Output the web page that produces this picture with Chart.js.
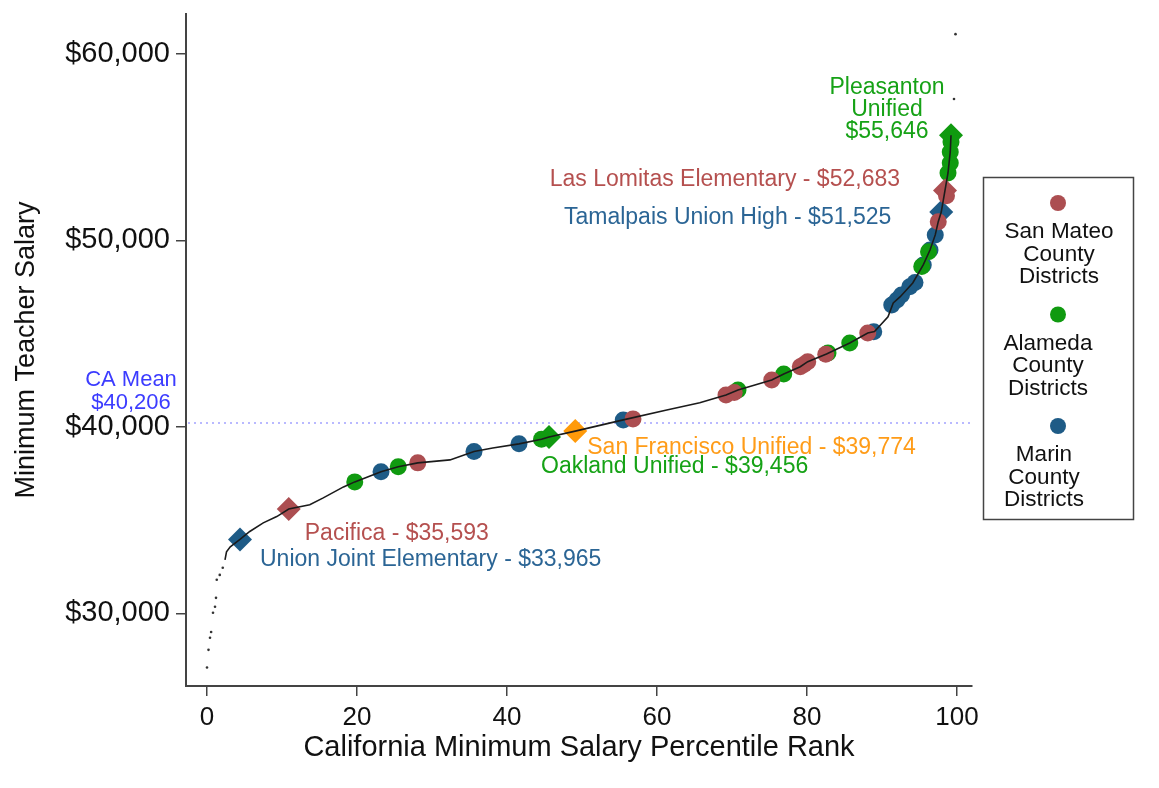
<!DOCTYPE html>
<html>
<head>
<meta charset="utf-8">
<script src="https://cdn.jsdelivr.net/npm/chart.js@4/dist/chart.umd.min.js"></script>
<style>
  body { margin: 0; background: #fff; }
  #wrap { width: 1159px; height: 788px; }
</style>
</head>
<body>
<div id="wrap"><canvas id="salaryChart" width="1159" height="788"></canvas></div>
<script>
// axis ticks
var xTicks = [0, 20, 40, 60, 80, 100];
var yTicks = [30000, 40000, 50000, 60000];
var caMean = 40206;

// all CA districts - sparse bottom tail and top outliers
var tailPct = [0.0, 0.2, 0.4, 0.55, 0.8, 1.07, 1.2, 1.3, 1.7, 2.1, 99.6, 99.8];
var tailSalary = [27090, 28040, 28690, 29000, 30030, 30350, 30830, 31800, 32060, 32440, 57590, 61070];

// all CA districts - main curve
var curvePct = [2.4, 2.6, 3.1, 4.4, 5.7, 7.5, 9.3, 10.9, 13.7, 15.5, 18.2, 19.7, 23.2, 25.5, 28.1,
    32.4, 35.6, 38.1, 41.6, 44.6, 45.6, 49.1, 55.5, 61.3, 65.7, 69.2, 70.8, 75.3, 76.9, 79.1, 80.1,
    82.6, 85.7, 88.1, 89.0, 90.8, 91.5, 92.4, 94.1, 95.5, 96.4, 97.1, 97.5, 97.9, 98.4, 98.8, 99.1, 99.2];
var curveSalary = [32870, 33300, 33570, 33965, 34390, 34850, 35190, 35593, 35820, 36190, 36780, 37050, 37590, 37860, 38070,
    38230, 38680, 38870, 39090, 39340, 39456, 39774, 40375, 40910, 41290, 41716, 41980, 42520, 42840, 43230, 43500,
    43910, 44500, 45040, 45110, 45910, 46650, 46970, 47720, 48690, 49490, 50300, 51010, 51525, 52683, 53620, 54750, 55646];

// county districts
var sanMateoPct = [28.1, 56.8, 69.2, 70.3, 75.3, 79.1, 79.6, 80.1, 82.5, 88.1, 97.5, 98.6];
var sanMateoSalary = [38070, 40430, 41716, 41850, 42520, 43230, 43350, 43500, 43900, 45040, 51010, 52400];
var alamedaPct = [19.7, 25.5, 44.6, 70.8, 76.9, 82.8, 85.7, 95.3, 96.2, 98.8, 99.1, 99.1, 99.2];
var alamedaSalary = [37050, 37860, 39340, 41980, 42840, 43960, 44500, 48600, 49400, 53620, 54160, 54750, 55280];
var marinPct = [23.2, 35.6, 41.6, 55.5, 88.9, 91.3, 92.0, 92.6, 93.7, 94.4, 95.5, 96.4, 97.1];
var marinSalary = [37590, 38680, 39090, 40375, 45110, 46540, 46810, 47080, 47520, 47740, 48690, 49490, 50300];

// highlighted districts
var hlNames = ['Pleasanton Unified', 'Las Lomitas Elementary', 'Tamalpais Union High', 'San Francisco Unified',
    'Oakland Unified', 'Pacifica', 'Union Joint Elementary'];
var hlPct = [99.2, 98.4, 97.9, 49.1, 45.6, 10.9, 4.4];
var hlSalary = [55646, 52683, 51525, 39774, 39456, 35593, 33965];
var hlCounty = ['Alameda', 'San Mateo', 'Marin', 'San Francisco', 'Alameda', 'San Mateo', 'Marin'];

var legendNames = ['San Mateo', 'Alameda', 'Marin'];

var FONT = "'Liberation Sans', Arial, Helvetica, sans-serif";
var markerColor = { 'San Mateo': '#ac4e51', 'Alameda': '#109a10', 'Marin': '#1e5b86', 'San Francisco': '#ff9a0a' };
var textColor = { 'San Mateo': '#b5504f', 'Alameda': '#16a216', 'Marin': '#2b6595', 'San Francisco': '#ff9c18' };

function pts(xs, ys) {
    return xs.map(function(x, i) { return { x: x, y: ys[i] }; });
}
function money(v) {
    return '$' + v.toLocaleString('en-US');
}

// label placement relative to the highlighted marker (pixels)
var labelPlace = [
    { lines: ['Pleasanton', 'Unified', money(hlSalary[0])], dx: -64, dy: -48, align: 'center' },
    { lines: [hlNames[1] + ' - ' + money(hlSalary[1])], dx: -45, dy: -11, align: 'right' },
    { lines: [hlNames[2] + ' - ' + money(hlSalary[2])], dx: -50, dy: 6, align: 'right' },
    { lines: [hlNames[3] + ' - ' + money(hlSalary[3])], dx: 12, dy: 17, align: 'left' },
    { lines: [hlNames[4] + ' - ' + money(hlSalary[4])], dx: -8, dy: 30, align: 'left' },
    { lines: [hlNames[5] + ' - ' + money(hlSalary[5])], dx: 16, dy: 25, align: 'left' },
    { lines: [hlNames[6] + ' - ' + money(hlSalary[6])], dx: 20, dy: 20, align: 'left' }
];

var meanLine = {
    id: 'meanLine',
    beforeDatasetsDraw: function(chart) {
        var c = chart.ctx, area = chart.chartArea;
        var y = chart.scales.y.getPixelForValue(caMean);
        c.save();
        c.strokeStyle = '#a3a3ff';
        c.lineWidth = 1.5;
        c.setLineDash([2, 4]);
        c.beginPath();
        c.moveTo(area.left + 2, y);
        c.lineTo(area.right, y);
        c.stroke();
        c.restore();
    }
};

var labels = {
    id: 'labels',
    afterDatasetsDraw: function(chart) {
        var c = chart.ctx;
        var xs = chart.scales.x, ys = chart.scales.y;
        c.save();
        c.font = '23px ' + FONT;
        c.textBaseline = 'middle';
        labelPlace.forEach(function(lp, i) {
            var px = xs.getPixelForValue(hlPct[i]) + lp.dx;
            var py = ys.getPixelForValue(hlSalary[i]) + lp.dy;
            c.fillStyle = textColor[hlCounty[i]];
            c.textAlign = lp.align;
            lp.lines.forEach(function(t, k) {
                c.fillText(t, px, py + k * 22);
            });
        });
        // CA mean label, left of the axis
        var my = ys.getPixelForValue(caMean);
        c.fillStyle = '#3c3cff';
        c.textAlign = 'center';
        c.font = '22px ' + FONT;
        c.fillText('CA Mean', 131, my - 43);
        c.fillText(money(caMean), 131, my - 20);
        c.restore();
    }
};

var boxLegend = {
    id: 'boxLegend',
    afterDraw: function(chart) {
        var c = chart.ctx;
        var centers = [1059, 1048, 1044];
        c.save();
        c.strokeStyle = '#444';
        c.lineWidth = 1.5;
        c.strokeRect(983.5, 177.5, 150, 342);
        c.font = '22.5px ' + FONT;
        c.textAlign = 'center';
        c.textBaseline = 'middle';
        legendNames.forEach(function(name, i) {
            var top = 203 + i * 111.5;
            c.fillStyle = markerColor[name];
            c.beginPath();
            c.arc(1058, top, 8, 0, Math.PI * 2);
            c.fill();
            c.fillStyle = '#111';
            [name, 'County', 'Districts'].forEach(function(t, k) {
                c.fillText(t, centers[i], top + 29 + k * 22.5);
            });
        });
        c.restore();
    }
};

function circles(xs, ys, county) {
    return {
        label: county + ' County Districts',
        data: pts(xs, ys),
        pointStyle: 'circle',
        pointRadius: 8.5,
        pointBackgroundColor: markerColor[county],
        pointBorderWidth: 0,
        showLine: false
    };
}

var hlIdx = { 'San Mateo': [], 'Alameda': [], 'Marin': [], 'San Francisco': [] };
hlCounty.forEach(function(cty, i) { hlIdx[cty].push(i); });
function diamonds(county) {
    var idx = hlIdx[county];
    return {
        label: county + ' highlighted',
        data: idx.map(function(i) { return { x: hlPct[i], y: hlSalary[i] }; }),
        pointStyle: 'rectRot',
        pointRadius: 12,
        pointBackgroundColor: markerColor[county],
        pointBorderWidth: 0,
        showLine: false
    };
}

var ctx = document.getElementById('salaryChart').getContext('2d');
var salaryChart = new Chart(ctx, {
    type: 'scatter',
    data: {
        datasets: [
            {
                label: 'All districts',
                data: pts(curvePct, curveSalary),
                showLine: true,
                borderColor: '#1b1b1b',
                borderWidth: 1.6,
                pointRadius: 0
            },
            {
                label: 'All districts tail',
                data: pts(tailPct, tailSalary),
                showLine: false,
                pointRadius: 1.3,
                pointBackgroundColor: '#333',
                pointBorderWidth: 0
            },
            circles(sanMateoPct, sanMateoSalary, 'San Mateo'),
            diamonds('San Mateo'),
            circles(alamedaPct, alamedaSalary, 'Alameda'),
            diamonds('Alameda'),
            circles(marinPct, marinSalary, 'Marin'),
            diamonds('Marin'),
            diamonds('San Francisco')
        ]
    },
    options: {
        responsive: false,
        animation: false,
        layout: {
            padding: { top: 14, right: 187, left: 0, bottom: 0 }
        },
        plugins: {
            legend: { display: false },
            tooltip: { enabled: false }
        },
        scales: {
            x: {
                type: 'linear',
                min: -2.8,
                max: 102,
                afterBuildTicks: function(scale) {
                    scale.ticks = xTicks.map(function(v) { return { value: v }; });
                },
                afterFit: function(scale) {
                    scale.height = 102;
                    scale.paddingLeft = 0;
                    scale.paddingRight = 0;
                },
                ticks: {
                    color: '#111',
                    padding: 6,
                    font: { family: FONT, size: 26 }
                },
                grid: { drawOnChartArea: false, drawTicks: true, tickLength: 10, color: '#444', lineWidth: 1.5 },
                border: { display: true, color: '#444', width: 2 },
                title: {
                    display: true,
                    text: 'California Minimum Salary Percentile Rank',
                    color: '#111',
                    font: { family: FONT, size: 29 },
                    padding: { top: 0, bottom: 23 }
                }
            },
            y: {
                type: 'linear',
                min: 26100,
                max: 62150,
                afterBuildTicks: function(scale) {
                    scale.ticks = yTicks.map(function(v) { return { value: v }; });
                },
                afterFit: function(scale) {
                    scale.width = 186;
                    scale.paddingTop = 0;
                    scale.paddingBottom = 0;
                },
                ticks: {
                    color: '#111',
                    padding: 6,
                    font: { family: FONT, size: 29 },
                    callback: function(v) { return money(v); }
                },
                grid: { drawOnChartArea: false, drawTicks: true, tickLength: 10, color: '#444', lineWidth: 1.5 },
                border: { display: true, color: '#444', width: 2 },
                title: {
                    display: true,
                    text: 'Minimum Teacher Salary',
                    color: '#111',
                    font: { family: FONT, size: 27 },
                    padding: { top: 10, bottom: 0 }
                }
            }
        }
    },
    plugins: [meanLine, labels, boxLegend]
});
</script>
</body>
</html>
